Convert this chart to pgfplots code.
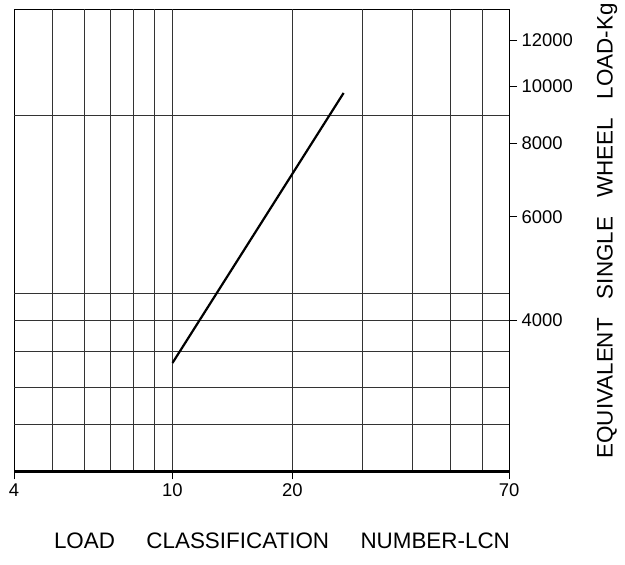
\documentclass[border=0pt]{standalone}
\usepackage{pgfplots}
\pgfplotsset{compat=1.18}
\usepackage{fontspec}
\setmainfont{Liberation Sans}
\usetikzlibrary{calc}
\begin{document}
\begin{tikzpicture}
\begin{axis}[
  scale only axis, width=495bp, height=462bp,
  xmode=log, ymode=log,
  xmin=4, xmax=70, ymin=2208, ymax=13530,
  xtick={4,10,20,70}, xticklabels={4,10,20,70},
  ytick={4000,6000,8000,10000,12000},
  yticklabels={4000,6000,8000,10000,12000},
  minor xtick={}, minor ytick={},
  xtick pos=bottom, ytick pos=right,
  tick align=outside, major tick length=8bp,
  axis line style={line width=1bp},
  tick style={black, line width=1bp},
  ticklabel style={font=\fontsize{18.5}{20}\selectfont},
  yticklabel style={xshift=1bp},
  xticklabel style={yshift=-1bp},
  /pgf/number format/assume math mode=true,
  extra x ticks={5,6,7,8,9,10,20,30,40,50,60},
  extra x tick labels={},
  extra x tick style={grid=major, major tick length=0pt,
    major grid style={black!80, line width=1bp}},
  extra y ticks={2650,3075,3532,4000,4441,8941},
  extra y tick labels={},
  extra y tick style={grid=major, major tick length=0pt,
    major grid style={black!80, line width=1bp}},
]
\addplot[black, line width=2.2bp] coordinates {(10,3380) (26.9,9750)};
\coordinate (SW) at (rel axis cs:0,0);
\coordinate (NE) at (rel axis cs:1,1);
\coordinate (SE) at (rel axis cs:1,0);
\end{axis}
\draw[line width=2bp] (SW) -- (SE);
\node[font=\fontsize{22.5}{25}\selectfont] at ($(SW)+(268bp,-69bp)$)
  {LOAD\hspace{1.4em}CLASSIFICATION\hspace{1.4em}NUMBER-LCN};
\node[rotate=90, inner sep=0pt, font=\fontsize{22.5}{25}\selectfont] at ($(SE)+(98bp,240.7bp)$)
  {EQUIVALENT\hspace{0.85em}SINGLE\hspace{0.85em}WHEEL\hspace{0.85em}LOAD-Kg};
\path ($(SW)+(-14bp,-93.3bp)$) rectangle ($(NE)+(116bp,9.5bp)$);
\end{tikzpicture}
\end{document}
